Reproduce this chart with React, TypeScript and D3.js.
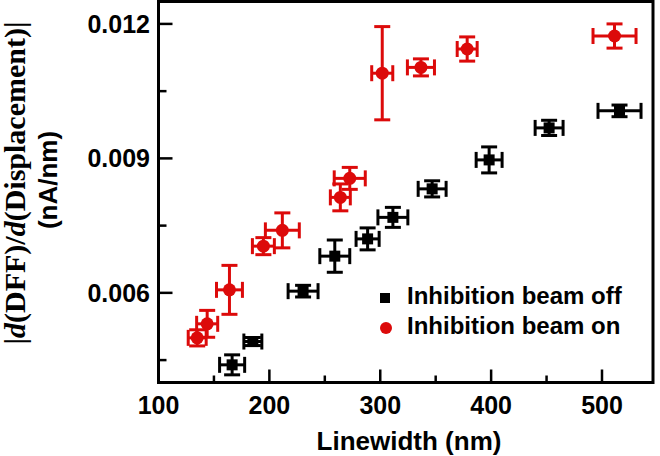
import React from "react";
import * as d3 from "d3";

// Inhibition beam off (black squares)
const offX = [166.4, 185.1, 230.4, 259.0, 288.6, 311.4, 346.8, 398.2, 452.3, 515.8];
const offY = [0.004394, 0.004914, 0.006038, 0.006819, 0.007204, 0.007684, 0.00832, 0.008966, 0.00968, 0.01006];
const offXErr = [11.3, 8.1, 13.5, 13.5, 10.4, 13.5, 12.6, 11.7, 12.6, 19.4];
const offYErr = [0.000223, 0.00009, 0.00013, 0.00036, 0.000245, 0.000223, 0.00018, 0.00029, 0.00017, 0.00013];

// Inhibition beam on (red circles)
const onX = [134.9, 143.9, 164.0, 194.6, 211.7, 264.0, 272.5, 301.8, 336.7, 378.4, 511.3];
const onY = [0.004996, 0.005309, 0.006067, 0.007042, 0.007394, 0.00813, 0.008554, 0.0109, 0.01103, 0.01144, 0.01173];
const onXErr = [8.1, 9.5, 11.7, 9.9, 15.3, 9.0, 14.0, 9.5, 12.2, 9.0, 19.4];
const onYErr = [0.00018, 0.0003, 0.000546, 0.00019, 0.00039, 0.0003, 0.000245, 0.00104, 0.00019, 0.00027, 0.00027];

const xMajor = [100, 200, 300, 400, 500];
const xMinor = [150, 250, 350, 450];
const yMajor = [0.006, 0.009, 0.012];
const yMinor = [0.0045, 0.0075, 0.0105];
const yLabels = ["0.006", "0.009", "0.012"];
const legendLabels = ["Inhibition beam off", "Inhibition beam on"];

const RED = "#dc0a0a";
const W = 660, H = 456;
const L = 158.5, R = 653, T = 1.5, B = 382.5;

export default function App() {
  const x = d3.scaleLinear().domain([100, 546]).range([L, R]);
  const y = d3.scaleLinear().domain([0.004, 0.0125]).range([B, T]);
  const cap = 8;
  const sans = "'Liberation Sans', Arial, sans-serif";

  const errBars = (xs: number[], ys: number[], xe: number[], ye: number[], color: string) =>
    xs.map((xv, i) => {
      const cx = x(xv), cy = y(ys[i]);
      const x0 = x(xv - xe[i]), x1 = x(xv + xe[i]);
      const y0 = y(ys[i] - ye[i]), y1 = y(ys[i] + ye[i]);
      return (
        <g key={i} stroke={color} strokeWidth={3}>
          <line x1={x0} x2={x1} y1={cy} y2={cy} />
          <line x1={x0} x2={x0} y1={cy - cap} y2={cy + cap} />
          <line x1={x1} x2={x1} y1={cy - cap} y2={cy + cap} />
          <line x1={cx} x2={cx} y1={y0} y2={y1} />
          <line x1={cx - cap} x2={cx + cap} y1={y0} y2={y0} />
          <line x1={cx - cap} x2={cx + cap} y1={y1} y2={y1} />
        </g>
      );
    });

  return (
    <svg width={W} height={H} style={{ position: "absolute", left: 0, top: 0, background: "#fff" }}>
      <rect x={0} y={0} width={W} height={H} fill="#fff" />
      {/* data */}
      {errBars(offX, offY, offXErr, offYErr, "#000")}
      {offX.map((xv, i) => (
        <rect key={"s" + i} x={x(xv) - 5.5} y={y(offY[i]) - 5.5} width={11} height={11} fill="#000" />
      ))}
      {errBars(onX, onY, onXErr, onYErr, RED)}
      {onX.map((xv, i) => (
        <circle key={"c" + i} cx={x(xv)} cy={y(onY[i])} r={6.5} fill={RED} />
      ))}

      {/* frame */}
      <rect x={L} y={T} width={R - L} height={B - T} fill="none" stroke="#000" strokeWidth={3} />
      {/* x ticks */}
      {xMajor.map((v) => (
        <line key={"xM" + v} x1={x(v)} x2={x(v)} y1={B} y2={B - 13} stroke="#000" strokeWidth={2.5} />
      ))}
      {xMinor.map((v) => (
        <line key={"xm" + v} x1={x(v)} x2={x(v)} y1={B} y2={B - 7} stroke="#000" strokeWidth={2.5} />
      ))}
      {xMajor.map((v) => (
        <text key={"xl" + v} x={x(v)} y={414} textAnchor="middle" fontFamily={sans} fontWeight="bold" fontSize={25}>
          {v}
        </text>
      ))}
      {/* y ticks */}
      {yMajor.map((v) => (
        <line key={"yM" + v} x1={L} x2={L + 14} y1={y(v)} y2={y(v)} stroke="#000" strokeWidth={2.5} />
      ))}
      {yMinor.map((v) => (
        <line key={"ym" + v} x1={L} x2={L + 8} y1={y(v)} y2={y(v)} stroke="#000" strokeWidth={2.5} />
      ))}
      {yMajor.map((v, i) => (
        <text key={"yl" + v} x={150} y={y(v)} dy="0.36em" textAnchor="end" fontFamily={sans} fontWeight="bold" fontSize={25}>
          {yLabels[i]}
        </text>
      ))}

      {/* axis titles */}
      <text x={409} y={450} textAnchor="middle" fontFamily={sans} fontWeight="bold" fontSize={26}>
        Linewidth (nm)
      </text>
      <text
        transform="translate(25,183) rotate(-90)"
        textAnchor="middle"
        fontFamily="'Liberation Serif', 'Times New Roman', serif"
        fontWeight="bold"
        fontSize={30}
      >
        |<tspan fontStyle="italic">d</tspan>(DFF)/<tspan fontStyle="italic">d</tspan>(Displacement)|
      </text>
      <text transform="translate(57,180) rotate(-90)" textAnchor="middle" fontFamily={sans} fontWeight="bold" fontSize={26}>
        (nA/nm)
      </text>

      {/* legend */}
      <rect x={380} y={293} width={10} height={10} fill="#000" />
      <text x={407} y={304} fontFamily={sans} fontWeight="bold" fontSize={24}>
        {legendLabels[0]}
      </text>
      <circle cx={386} cy={328} r={6} fill={RED} />
      <text x={407} y={334} fontFamily={sans} fontWeight="bold" fontSize={24}>
        {legendLabels[1]}
      </text>
    </svg>
  );
}
